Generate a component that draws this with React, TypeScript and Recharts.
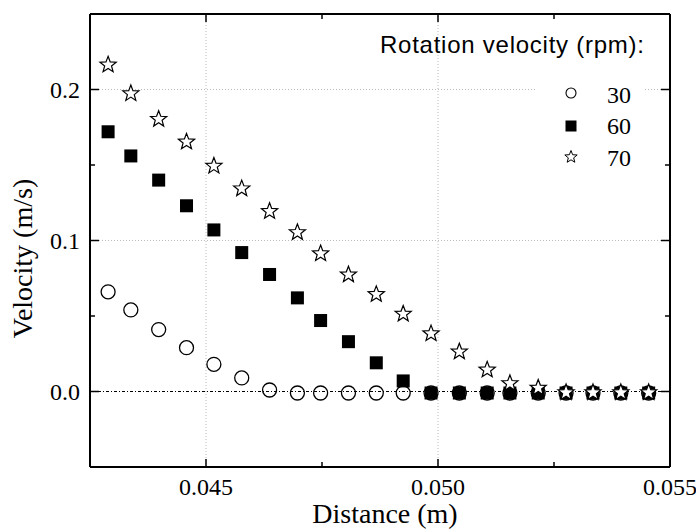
import { ScatterChart, Scatter, XAxis, YAxis, ReferenceLine, Legend } from 'recharts';

// distance from centre (m), one reading per probe position
const DISTANCE = [
  0.04289, 0.04338, 0.04398, 0.04458, 0.04517, 0.04577, 0.04637, 0.04697, 0.04747, 0.04807, 0.04867,
  0.04925, 0.04985, 0.05046, 0.05106, 0.05155, 0.05216, 0.05276, 0.05334, 0.05394, 0.05454,
];

// velocity (m/s) at 30, 60 and 70 rpm
const V30 = [
  0.066, 0.054, 0.041, 0.029, 0.018, 0.009, 0.001, -0.001, -0.001, -0.001, -0.001,
  -0.001, -0.001, -0.001, -0.001, -0.001, -0.001, -0.001, -0.001, -0.001, -0.001,
];
const V60 = [
  0.172, 0.156, 0.14, 0.123, 0.107, 0.092, 0.0775, 0.062, 0.047, 0.033, 0.019,
  0.007, -0.001, -0.001, -0.001, -0.001, -0.001, -0.001, -0.001, -0.001, -0.001,
];
const V70 = [
  0.217, 0.198, 0.181, 0.166, 0.15, 0.135, 0.12, 0.106, 0.092, 0.078, 0.065,
  0.052, 0.039, 0.027, 0.015, 0.006, 0.003, 0, 0, 0, 0,
];

const SERIES_NAMES = ['30', '60', '70'];
const LEGEND_TITLE = 'Rotation velocity (rpm):';

const X_MAJOR = [0.045, 0.05, 0.055];
const X_MINOR = [0.0475, 0.0525];
const Y_MAJOR = [0, 0.1, 0.2];
const Y_MINOR = [0.05, 0.15];
const X_GRID = [0.045, 0.05];
const Y_GRID = [0.1, 0.2];

const SERIF = '"Liberation Serif", "Times New Roman", serif';
const SANS = '"Liberation Sans", Arial, sans-serif';

const toPoints = (ys: number[]) => DISTANCE.map((x, i) => ({ x, y: ys[i] }));
const isMajor = (v: number, list: number[]) => list.some((m) => Math.abs(m - v) < 1e-9);
const xTicks = [...X_MAJOR, ...X_MINOR].sort((a, b) => a - b);
const yTicks = [...Y_MAJOR, ...Y_MINOR].sort((a, b) => a - b);

const starPath = (cx: number, cy: number, R: number, r: number) => {
  const pts: string[] = [];
  for (let i = 0; i < 10; i++) {
    const rad = i % 2 === 0 ? R : r;
    const a = -Math.PI / 2 + (i * Math.PI) / 5;
    pts.push(`${(cx + rad * Math.cos(a)).toFixed(2)},${(cy + rad * Math.sin(a)).toFixed(2)}`);
  }
  return `M${pts.join('L')}Z`;
};

const CircleShape = ({ cx, cy }: any) => (
  <circle cx={cx} cy={cy} r={7} fill='none' stroke='#000' strokeWidth={1.3} />
);
const SquareShape = ({ cx, cy }: any) => <rect x={cx - 6.5} y={cy - 6.5} width={13} height={13} fill='#000' />;
const StarShape = ({ cx, cy }: any) => (
  <path d={starPath(cx, cy + 1, 8.5, 3.6)} fill='#fff' stroke='#000' strokeWidth={1.2} />
);

const BottomTick = ({ x, y, payload }: any) => {
  const major = isMajor(payload.value, X_MAJOR);
  return (
    <g>
      <line x1={x} x2={x} y1={y} y2={y - (major ? 8 : 5)} stroke='#000' strokeWidth={1.5} />
      {major && (
        <text x={x} y={y + 28} textAnchor='middle' fontFamily={SERIF} fontSize={24} fill='#000'>
          {payload.value.toFixed(3)}
        </text>
      )}
    </g>
  );
};

const TopTick = ({ x, y, payload }: any) => (
  <line x1={x} x2={x} y1={y} y2={y + (isMajor(payload.value, X_MAJOR) ? 8 : 5)} stroke='#000' strokeWidth={1.5} />
);

const LeftTick = ({ x, y, payload }: any) => {
  const major = isMajor(payload.value, Y_MAJOR);
  return (
    <g>
      <line x1={x} x2={x + (major ? 9 : 5)} y1={y} y2={y} stroke='#000' strokeWidth={1.5} />
      {major && (
        <text x={x - 10} y={y + 8} textAnchor='end' fontFamily={SERIF} fontSize={24} fill='#000'>
          {payload.value.toFixed(1)}
        </text>
      )}
    </g>
  );
};

const RightTick = ({ x, y, payload }: any) => (
  <line x1={x} x2={x - (isMajor(payload.value, Y_MAJOR) ? 9 : 5)} y1={y} y2={y} stroke='#000' strokeWidth={1.5} />
);

const XTitle = ({ viewBox }: any) => (
  <text x={viewBox.x + viewBox.width / 2 + 5} y={viewBox.y + 56} textAnchor='middle' fontFamily={SERIF} fontSize={28} fill='#000'>
    Distance (m)
  </text>
);

const YTitle = ({ viewBox }: any) => {
  const cx = viewBox.x + 32;
  const cy = viewBox.y + viewBox.height / 2 + 18;
  return (
    <text x={cx} y={cy} transform={`rotate(-90 ${cx} ${cy})`} textAnchor='middle' fontFamily={SERIF} fontSize={28} fill='#000'>
      Velocity (m/s)
    </text>
  );
};

const LegendBox = () => (
  <svg width={300} height={160}>
    <text x={10} y={33} fontFamily={SANS} fontSize={24} letterSpacing={0.75} fill='#000'>
      {LEGEND_TITLE}
    </text>
    <rect x={167} y={58} width={108} height={94} fill='#fff' />
    <circle cx={201} cy={73} r={5} fill='#fff' stroke='#000' strokeWidth={1.1} />
    <rect x={195.5} y={100.5} width={11} height={11} fill='#000' />
    <path d={starPath(201, 137, 6.5, 2.8)} fill='#fff' stroke='#000' strokeWidth={1} />
    {SERIES_NAMES.map((name, i) => (
      <text key={name} x={237} y={82.5 + i * 31.5} fontFamily={SERIF} fontSize={24} fill='#000'>
        {name}
      </text>
    ))}
  </svg>
);

export default function App() {
  return (
    <div style={{ position: 'absolute', left: 0, top: 0, width: 696, height: 531, background: '#fff' }}>
      <ScatterChart width={696} height={531} margin={{ top: 0, right: 0, bottom: 0, left: 0 }}>
        <XAxis
          type='number'
          dataKey='x'
          domain={[0.0425, 0.055]}
          allowDataOverflow
          ticks={xTicks}
          interval={0}
          height={64}
          tickSize={0}
          tickMargin={0}
          tickLine={false}
          tick={BottomTick}
          axisLine={{ stroke: '#000', strokeWidth: 2 }}
          label={<XTitle />}
        />
        <XAxis
          xAxisId='top'
          orientation='top'
          type='number'
          dataKey='x'
          domain={[0.0425, 0.055]}
          allowDataOverflow
          ticks={xTicks}
          interval={0}
          height={14}
          tickSize={0}
          tickMargin={0}
          tickLine={false}
          tick={TopTick}
          axisLine={{ stroke: '#000', strokeWidth: 2 }}
        />
        <YAxis
          type='number'
          dataKey='y'
          domain={[-0.05, 0.25]}
          allowDataOverflow
          ticks={yTicks}
          interval={0}
          width={90}
          tickSize={0}
          tickMargin={0}
          tickLine={false}
          tick={LeftTick}
          axisLine={{ stroke: '#000', strokeWidth: 2 }}
          label={<YTitle />}
        />
        <YAxis
          yAxisId='right'
          orientation='right'
          type='number'
          dataKey='y'
          domain={[-0.05, 0.25]}
          allowDataOverflow
          ticks={yTicks}
          interval={0}
          width={26}
          tickSize={0}
          tickMargin={0}
          tickLine={false}
          tick={RightTick}
          axisLine={{ stroke: '#000', strokeWidth: 2 }}
        />
        {X_GRID.map((v) => (
          <ReferenceLine key={`gx${v}`} x={v} stroke='#bbb' strokeDasharray='1 2' />
        ))}
        {Y_GRID.map((v) => (
          <ReferenceLine key={`gy${v}`} y={v} stroke='#bbb' strokeDasharray='1 2' />
        ))}
        <ReferenceLine y={0} stroke='#000' strokeDasharray='3 2 1 2' />
        <Legend
          layout='vertical'
          align='center'
          verticalAlign='middle'
          wrapperStyle={{ left: 370, top: 20, width: 300 }}
          content={<LegendBox />}
        />
        <Scatter name={SERIES_NAMES[0]} data={toPoints(V30)} shape={CircleShape} isAnimationActive={false} />
        <Scatter name={SERIES_NAMES[1]} data={toPoints(V60)} shape={SquareShape} isAnimationActive={false} />
        <Scatter name={SERIES_NAMES[2]} data={toPoints(V70)} shape={StarShape} isAnimationActive={false} />
      </ScatterChart>
    </div>
  );
}
